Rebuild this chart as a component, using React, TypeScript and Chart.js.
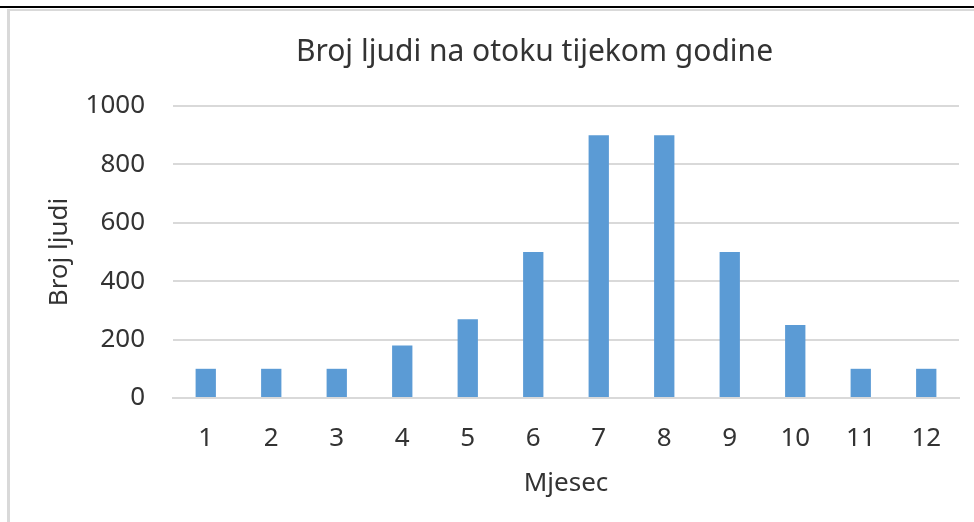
import React, { useEffect, useRef } from "react";
import { Chart, registerables } from "chart.js";

Chart.register(...registerables);

const categories = ["1", "2", "3", "4", "5", "6", "7", "8", "9", "10", "11", "12"];
const people = [100, 100, 100, 180, 270, 500, 900, 900, 500, 250, 100, 100];
const yTicks = [0, 200, 400, 600, 800, 1000];

const chartTitle = "Broj ljudi na otoku tijekom godine";
const xTitle = "Mjesec";
const yTitle = "Broj ljudi";

const FONT = "'Noto Sans', sans-serif";
const TEXT = "#333333";
const GRID = "#d9d9d9";

const shiftTitle = {
  id: "shiftTitle",
  afterLayout(chart: any) {
    const t = chart.titleBlock;
    if (t) {
      t.left = 110;
    }
  },
};

export default function App() {
  const ref = useRef<HTMLCanvasElement | null>(null);

  useEffect(() => {
    if (!ref.current) return;
    const chart = new Chart(ref.current, {
      type: "bar",
      data: {
        labels: categories,
        datasets: [
          {
            data: people,
            backgroundColor: "#5b9bd5",
            borderWidth: 0,
            categoryPercentage: 1,
            barPercentage: 0.31,
          },
        ],
      },
      plugins: [shiftTitle],
      options: {
        animation: false,
        responsive: false,
        layout: { padding: { left: 0, right: 15, top: 10, bottom: 0 } },
        plugins: {
          legend: { display: false },
          tooltip: { enabled: false },
          title: {
            display: true,
            text: chartTitle,
            color: TEXT,
            font: { family: FONT, size: 30, weight: "normal" },
            padding: { top: 24, bottom: 36 },
          },
        },
        scales: {
          x: {
            grid: { display: false, drawTicks: false },
            border: { display: true, color: GRID, width: 2 },
            ticks: {
              color: TEXT,
              font: { family: FONT, size: 26 },
              padding: 25,
              maxRotation: 0,
            },
            title: {
              display: true,
              text: xTitle,
              color: TEXT,
              font: { family: FONT, size: 26 },
              padding: { top: 0, bottom: 23 },
            },
            afterFit: (s: any) => {
              s.height = 124;
            },
          },
          y: {
            min: 0,
            max: 1000,
            afterBuildTicks: (s: any) => {
              s.ticks = yTicks.map((v) => ({ value: v }));
            },
            grid: { color: GRID, lineWidth: 2, drawTicks: false },
            border: { display: false },
            ticks: {
              color: TEXT,
              font: { family: FONT, size: 26 },
              padding: 28,
              callback: (v: any) => String(v),
            },
            title: {
              display: true,
              text: yTitle,
              color: TEXT,
              font: { family: FONT, size: 26 },
              padding: { top: 44, bottom: 0 },
            },
            afterFit: (s: any) => {
              s.width = 173;
            },
          },
        },
      },
    });
    return () => chart.destroy();
  }, []);

  return (
    <div
      style={{
        position: "fixed",
        left: 0,
        top: 0,
        width: 974,
        height: 522,
        background: "#fff",
        overflow: "hidden",
      }}
    >
      <div style={{ position: "absolute", left: 0, top: 6, width: 974, height: 2, background: "#000" }} />
      <div
        style={{
          position: "absolute",
          left: 7,
          top: 9,
          width: 980,
          height: 530,
          borderLeft: "3px solid #d9d9d9",
          borderTop: "2px solid #d9d9d9",
        }}
      />
      <canvas ref={ref} width={974} height={522} style={{ position: "absolute", left: 0, top: 0 }} />
    </div>
  );
}
